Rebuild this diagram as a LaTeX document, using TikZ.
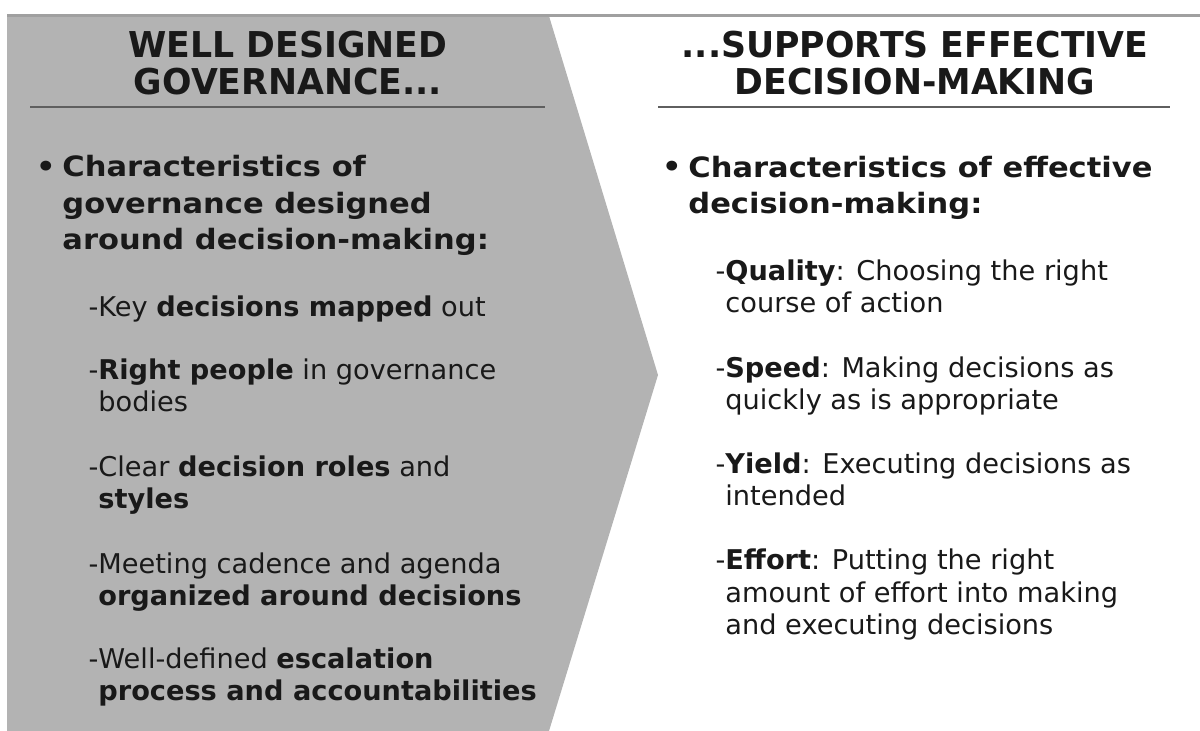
\documentclass[tikz,border=0pt]{standalone}
\usepackage{fontspec}
\setmainfont{DejaVu Sans}
\newfontfamily\leadfont[FakeStretch=1.09]{DejaVu Sans}
\newfontfamily\headfont[FakeStretch=0.975]{DejaVu Sans}
\definecolor{chevgray}{RGB}{179,179,179}
\definecolor{rulegray}{RGB}{95,95,95}
\definecolor{topgray}{RGB}{160,160,160}
\definecolor{inkgray}{RGB}{25,25,25}
\tikzset{
  headtext/.style={anchor=base, align=center, inner sep=0pt, text=inkgray,
    font=\headfont\bfseries\fontsize{17.8}{18.5}\selectfont},
  leadtext/.style={anchor=base west, align=left, inner sep=0pt, text=inkgray,
    font=\leadfont\bfseries\fontsize{14}{18.25}\selectfont},
  itemtext/.style={anchor=base west, align=left, inner sep=0pt, text=inkgray,
    font=\fontsize{13.6}{16.25}\selectfont},
}
\begin{document}
\begin{tikzpicture}[x=0.5pt,y=-0.5pt]
    \useasboundingbox (0,0) rectangle (1200,731);
    % gray chevron and rules
    \fill[chevgray] (7,16) -- (549,16) -- (658,375) -- (549,731) -- (7,731) -- cycle;
    \draw[topgray,line width=1.5pt] (7,16) -- (1200,16);
    \draw[rulegray,line width=1pt] (30,107) -- (545,107);
    \draw[rulegray,line width=1pt] (658,107) -- (1170,107);
    % headings (base = last line)
    \node[headtext] (govtitle) at (288,95) {WELL DESIGNED\\GOVERNANCE...};
    \node[headtext] (dectitle) at (915,95) {...SUPPORTS EFFECTIVE\\DECISION-MAKING};
    % left column
    \node[leadtext] (govlead) at (62,250) {Characteristics of\\governance designed\\around decision-making:};
    \node[leadtext,anchor=base east] (govbullet) at (56,177) {\textbullet};
    \node[itemtext] (gov1) at (98,317) {\llap{-}Key \textbf{decisions mapped} out};
    \node[itemtext] (gov2) at (98,412) {\llap{-}\textbf{Right people} in governance\\bodies};
    \node[itemtext] (gov3) at (98,509) {\llap{-}Clear \textbf{decision roles} and\\\textbf{styles}};
    \node[itemtext] (gov4) at (98,606) {\llap{-}Meeting cadence and agenda\\\textbf{organized around decisions}};
    \node[itemtext] (gov5) at (98,701) {\llap{-}Well-defined \textbf{escalation}\\\textbf{process and accountabilities}};
    % right column
    \node[leadtext] (declead) at (688,214) {Characteristics of effective\\decision-making:};
    \node[leadtext,anchor=base east] (decbullet) at (682,177) {\textbullet};
    \node[itemtext] (dec1) at (725,313) {\llap{-}\textbf{Quality}: Choosing the right\\course of action};
    \node[itemtext] (dec2) at (725,410) {\llap{-}\textbf{Speed}: Making decisions as\\quickly as is appropriate};
    \node[itemtext] (dec3) at (725,506) {\llap{-}\textbf{Yield}: Executing decisions as\\intended};
    \node[itemtext] (dec4) at (725,635) {\llap{-}\textbf{Effort}: Putting the right\\amount of effort into making\\and executing decisions};
\end{tikzpicture}
\end{document}
